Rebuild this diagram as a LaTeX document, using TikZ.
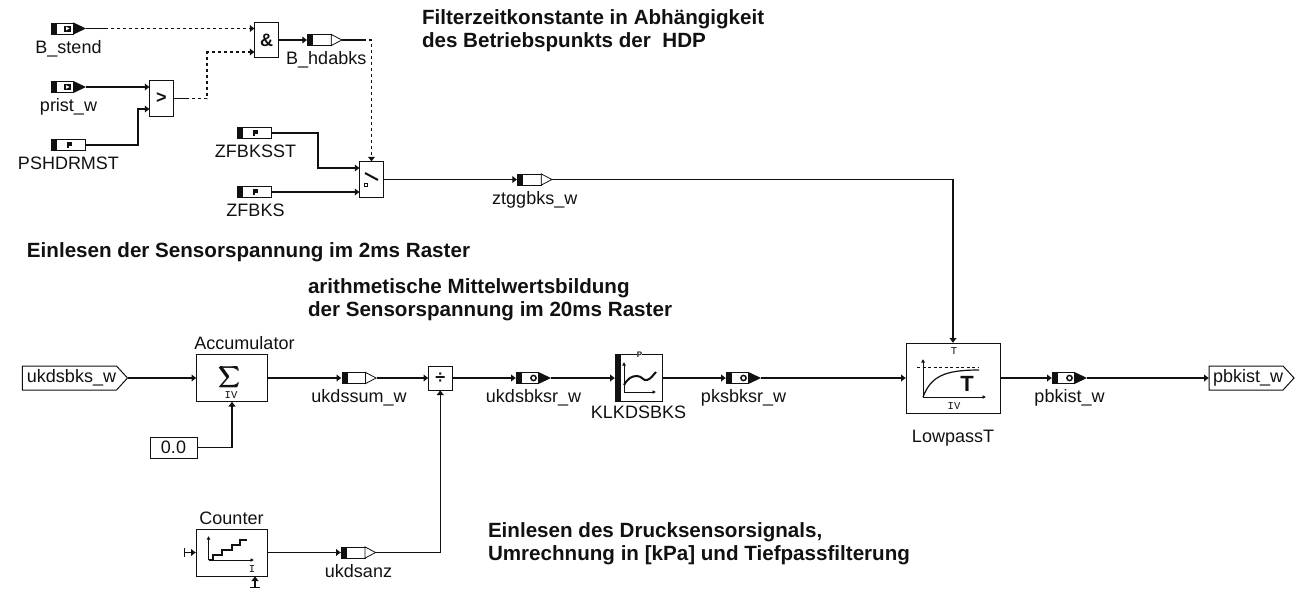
\documentclass[tikz,border=0pt]{standalone}
\usepackage{amsmath,amssymb}
\usepackage{fontspec}
\setmainfont{Liberation Sans}
\setmonofont{Liberation Mono}
\usepackage{xcolor}
\usepackage{tikz}
\usetikzlibrary{arrows.meta,positioning,shapes.symbols}
\definecolor{ink}{HTML}{111111}
% bodies of the signal blocks, drawn on a named node
\newcommand{\bodysrc}[1]{\begin{scope}[shift={(#1.west)}]
  \fill[ink] (0,-6) rectangle (5.5,6);
  \draw[line width=.8pt,fill=white] (5.5,-5.6) rectangle (22,5.6);
  \fill[ink] (22,-6.2) -- (35,0) -- (22,6.2) -- cycle;
  \fill[ink] (13,-3) rectangle (20,3);
  \fill[white] (15,-1.8) -- (18.5,0) -- (15,1.8) -- cycle;
\end{scope}}
\newcommand{\bodypar}[1]{\begin{scope}[shift={(#1.west)}]
  \fill[ink] (0,-6) rectangle (5.5,6);
  \draw[line width=.8pt,fill=white] (5.5,-5.6) rectangle (34.6,5.6);
  \fill[ink] (16,-2.8) rectangle (20.5,.8);
  \fill[ink] (16,-2.8) rectangle (17.8,3.2);
\end{scope}}
\newcommand{\bodyout}[1]{\begin{scope}[shift={(#1.west)}]
  \fill[ink] (0,-6) rectangle (5.5,6);
  \draw[line width=.8pt,fill=white] (5.5,-5.6) rectangle (24,5.6);
  \draw[line width=.8pt,fill=white] (24,-5.6) -- (34.6,0) -- (24,5.6) -- cycle;
\end{scope}}
\newcommand{\bodycal}[1]{\begin{scope}[shift={(#1.west)}]
  \fill[ink] (0,-6) rectangle (5.5,6);
  \draw[line width=.8pt,fill=white] (5.5,-5.6) rectangle (22,5.6);
  \fill[ink] (22,-6.2) -- (35,0) -- (22,6.2) -- cycle;
  \draw[ink,line width=1.5pt] (17.5,0) circle (2.6);
\end{scope}}
\begin{document}
\begin{tikzpicture}[
  x=1pt,y=-1pt,
  font=\fontsize{18}{21}\selectfont,
  color=ink,
  blk/.style={draw=ink,line width=1pt,fill=white,inner sep=0pt,outer sep=0pt,minimum width=23.5pt,minimum height=35.5pt},
  fct/.style={blk,minimum width=71pt,minimum height=47pt},
  lbl/.style={inner sep=0pt,outer sep=0pt,text height=13pt,text depth=4pt},
  hint/.style={inner sep=0pt,outer sep=0pt,align=left,anchor=north west,font=\fontsize{20.6}{22.7}\selectfont\bfseries},
  tiny/.style={inner sep=0pt,font=\fontsize{10.5}{11}\selectfont\ttfamily},
  port/.style={signal,signal to=east,signal pointer angle=95,draw=ink,line width=1pt,fill=white,inner sep=0pt,outer sep=0pt,minimum height=24pt},
  sig/.style={inner sep=0pt,outer sep=0pt,minimum width=35pt,minimum height=13pt},
  wire/.style={-{Latex[length=5pt,width=8pt]},line width=1.1pt,draw=ink},
  plain/.style={line width=1.1pt,draw=ink},
  dwire/.style={wire,dash pattern=on 3pt off 3pt},
  icon/.style={-{Latex[length=3.5pt,width=4pt]},line width=1pt,draw=ink}
]
\useasboundingbox (0,0) rectangle (1295,590);

% upper part
\node[sig] (bstend) at (68.5,28.5) {};
\node[lbl,below=5pt of bstend] (bstendl) {B\_stend};
\node[sig] (prist) at (68.5,87) {};
\node[lbl,below=5pt of prist] (pristl) {prist\_w};
\node[sig] (pshd) at (68.5,145) {};
\node[lbl,below=5pt of pshd] (pshdl) {PSHDRMST};
\node[blk] (gt) at (161.5,98.5) {\bfseries >};
\node[blk] (andb) at (266.5,40) {\bfseries\&};
\node[sig,right=29pt of andb] (hdabks) {};
\node[lbl,below=5pt of hdabks,xshift=1.5pt] (hdabksl) {B\_hdabks};
\node[sig] (zfbkst) at (254.5,133) {};
\node[lbl,below=5pt of zfbkst,xshift=1pt] (zfbkstl) {ZFBKSST};
\node[sig] (zfbk) at (254.5,192) {};
\node[lbl,below=5pt of zfbk,xshift=1pt] (zfbkl) {ZFBKS};
\node[blk] (sw) at (371.5,179.5) {};
\node[sig,right=134pt of sw] (ztgg) {};
\node[lbl,below=5pt of ztgg] (ztggl) {ztggbks\_w};

% lower part
\node[port,minimum width=105pt] (ukin) at (69.5,378) {\kern4pt ukdsbks\_w};
\node[fct,right=69pt of ukin] (acc) {};
\node[lbl,above=1pt of acc,xshift=12.5pt] (accl) {Accumulator};
\node[sig,right=74pt of acc] (ukss) {};
\node[lbl,below=5pt of ukss] (ukssl) {ukdssum\_w};
\node[blk,minimum height=24pt,right=52pt of ukss] (dv) {\bfseries ÷};
\node[sig,right=64pt of dv] (ukbr) {};
\node[lbl,below=5pt of ukbr] (ukbrl) {ukdsbksr\_w};
\node[blk,minimum width=47pt,minimum height=47pt,right=64pt of ukbr] (klk) {};
\node[lbl,below=4pt of klk] (klkl) {KLKDSBKS};
\node[sig,right=64pt of klk] (pks) {};
\node[lbl,below=5pt of pks] (pksl) {pksbksr\_w};
\node[blk,minimum width=94pt,minimum height=70pt,right=145pt of pks] (lp) {};
\node[lbl,below=16pt of lp] (lpl) {LowpassT};
\node[sig,right=52pt of lp] (pbk) {};
\node[lbl,below=5pt of pbk] (pbkl) {pbkist\_w};
\node[port,minimum width=83pt,right=122pt of pbk] (pbout) {\kern4pt pbkist\_w};
\node[blk,minimum width=47pt,minimum height=21pt] (zero) at (173.5,447.5) {0.0};
\node[fct] (cnt) at (231.5,552.5) {};
\node[lbl,above=1pt of cnt] (cntl) {Counter};
\node[sig,right=74pt of cnt] (uka) {};
\node[lbl,below=5pt of uka] (ukal) {ukdsanz};

% signal blocks
\bodysrc{bstend}
\bodysrc{prist}
\bodypar{pshd}
\bodypar{zfbkst}
\bodypar{zfbk}
\bodyout{hdabks}
\bodyout{ztgg}
\bodyout{ukss}
\bodyout{uka}
\bodycal{ukbr}
\bodycal{pks}
\bodycal{pbk}

% free ends and bends
\coordinate (bsm) at (105,28.5);
\coordinate (gtm) at (186,98.5);
\coordinate (gtk) at (207,52);
\coordinate (hdm) at (363,40);
\coordinate (psk) at (138,109);
\coordinate (zfk) at (318,168);
\coordinate (cntin) at (184,552.5);
\coordinate (cntbot) at (255,588);

% connectors
\draw[plain] (bstend.east) -- (bsm);
\draw[dwire] (bsm) -- (andb.west |- bsm);
\draw[wire] (prist.east) -- ([yshift=11.5pt]gt.west);
\draw[wire] (pshd.east) -| (psk) -- ([yshift=-10.5pt]gt.west);
\draw[plain] (gt.east) -- (gtm);
\draw[dwire] (gtm) -| (gtk) -- ([yshift=-12pt]andb.west);
\draw[wire] (andb.east) -- (hdabks.west);
\draw[plain] (hdabks.east) -- (hdm);
\draw[dwire] (hdm) -| (sw.north);
\draw[wire] (zfbkst.east) -| (zfk) -- ([yshift=11.5pt]sw.west);
\draw[wire] (zfbk.east) -- (sw.west |- zfbk);
\draw[wire] (sw.east) -- (ztgg.west);
\draw[wire] (ztgg.east) -| (lp.north);
\draw[wire] (ukin.east) -- (acc.west);
\draw[wire] (zero.east) -| (acc.south);
\draw[wire] (acc.east) -- (ukss.west);
\draw[wire] (ukss.east) -- (dv.west);
\draw[wire] (dv.east) -- (ukbr.west);
\draw[wire] (ukbr.east) -- (klk.west);
\draw[wire] (klk.east) -- (pks.west);
\draw[wire] (pks.east) -- (lp.west);
\draw[wire] (lp.east) -- (pbk.west);
\draw[wire] (pbk.east) -- (pbout.west);
\draw[wire] (cnt.east) -- (uka.west);
\draw[wire] (uka.east) -| (dv.south);
\draw[wire,{Bar[width=9pt,length=0pt]}-{Latex[length=5pt,width=8pt]}] (cntin) -- (cnt.west);
\draw[wire,{Bar[width=10pt,length=0pt]}-{Latex[length=5pt,width=8pt]}] (cntbot) -- (cntbot |- cnt.south);

% block icons
\draw[line width=2pt] (365,173) -- (378,180);
\draw[line width=.8pt] (364.5,183.5) rectangle (367.5,186.5);
\node[scale=.8,inner sep=0pt] (sigma) at (230,377) {$\displaystyle\pmb{\sum}$};
\node[tiny] (acciv) at (231,395) {IV};
\fill[ink] (616,354) rectangle (621,401);
\node[inner sep=0pt,fill=white,font=\fontsize{8}{8}\selectfont\bfseries] (klkp) at (639.5,354.5) {P};
\draw[icon] (624,392) -- (624,362);
\draw[icon] (624,392) -- (656,392);
\draw[line width=2pt] (624,385) .. controls (628,378) and (632,376) .. (637,376) .. controls (642,376) and (643,381) .. (647,380) .. controls (651,379) and (653,375) .. (656,372);
\node[tiny] (lpt) at (954,351) {T};
\node[tiny] (lpiv) at (954,406) {IV};
\node[inner sep=0pt,font=\fontsize{22}{22}\selectfont\bfseries] (lpbig) at (967,384) {T};
\draw[icon] (923,397) -- (923,359);
\draw[icon] (923,397) -- (986,397);
\draw[line width=.8pt,dash pattern=on 3pt off 2.5pt] (917,367) -- (979,367);
\draw[line width=1.2pt] (923,397) .. controls (931,376) and (945,370) .. (979,370);
\draw[icon] (208.5,560) -- (208.5,536);
\draw[icon] (208.5,560) -- (254,560);
\draw[line width=1.5pt] (208.5,560) -- (213,560) -- (213,555) -- (222,555) -- (222,550) -- (232,550) -- (232,545) -- (240,545) -- (240,540) -- (247,540);
\node[tiny] (cnti) at (252,569) {I};

% comments in the diagram
\node[hint] (hinta) at (422,9.5) {Filterzeitkonstante in Abhängigkeit\\des Betriebspunkts der\ \ HDP};
\node[hint] (hintb) at (27,243) {Einlesen der Sensorspannung im 2ms Raster};
\node[hint] (hintc) at (308,279) {arithmetische Mittelwertsbildung\\der Sensorspannung im 20ms Raster};
\node[hint] (hintd) at (488,523) {Einlesen des Drucksensorsignals,\\Umrechnung in [kPa] und Tiefpassfilterung};
\end{tikzpicture}
\end{document}
